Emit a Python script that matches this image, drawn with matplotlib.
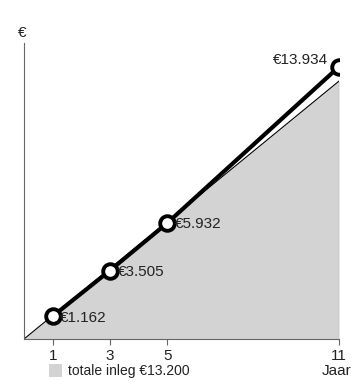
import matplotlib.pyplot as plt
import matplotlib as mpl
from matplotlib.patches import Patch

mpl.rcParams.update(
    {
        "font.family": ["Liberation Sans", "DejaVu Sans"],
        "font.size": 11,
    }
)

# data
years = [1, 3, 5, 11]
values = [1162, 3505, 5932, 13934]
value_labels = ["€1.162", "€3.505", "€5.932", "€13.934"]
inleg_years = [0, 11]
inleg_values = [0, 13200]
legend_label = "totale inleg €13.200"

fig = plt.figure(figsize=(3.52, 3.85), dpi=100)
ax = fig.add_axes([24 / 352, 46 / 385, 315 / 352, 296 / 385])

ax.fill_between(inleg_years, inleg_values, color="#d3d3d3", linewidth=0)
ax.plot(inleg_years, inleg_values, color="black", linewidth=0.8)
ax.plot([inleg_years[-1]] * 2, [0, inleg_values[-1]], color="#555555", linewidth=0.8)

ax.plot(
    years,
    values,
    color="black",
    linewidth=3,
    marker="o",
    markersize=10.5,
    markerfacecolor="white",
    markeredgecolor="black",
    markeredgewidth=2.8,
    zorder=3,
)

for x, y, lab in zip(years[:-1], values[:-1], value_labels[:-1]):
    ax.annotate(lab, xy=(x, y), xytext=(5.5, -1), textcoords="offset points",
                ha="left", va="center", color="#222222")
ax.annotate(value_labels[-1], xy=(years[-1], values[-1]), xytext=(-8, 5),
            textcoords="offset points", ha="right", va="center", color="#222222")

ax.set_xlim(0, 11)
ax.set_ylim(0, 15150)
ax.set_xticks(years)
ax.set_xticklabels([str(y) for y in years], color="#222222")
ax.set_yticks([])
ax.tick_params(axis="x", direction="out", length=4, color="#666666", pad=3)
for side in ["top", "right"]:
    ax.spines[side].set_visible(False)
ax.spines["left"].set_color("#666666")
ax.spines["bottom"].set_color("#666666")
ax.spines["left"].set_linewidth(0.8)
ax.spines["bottom"].set_linewidth(0.8)
ax.patch.set_alpha(0)

fig.text(22 / 352, 1 - 33 / 385, "€", ha="center", va="center", color="#222222")
fig.text(351 / 352, 1 - 371 / 385, "Jaar", ha="right", va="center", color="#222222")

fig.legend(handles=[Patch(facecolor="#d3d3d3", edgecolor="none", label=legend_label)],
           loc="lower left", bbox_to_anchor=(36 / 352, -0.015), frameon=False,
           handlelength=1.0, handleheight=1.0, handletextpad=0.4,
           labelcolor="#222222", fontsize=10)

fig.savefig("out.png", dpi=100)
